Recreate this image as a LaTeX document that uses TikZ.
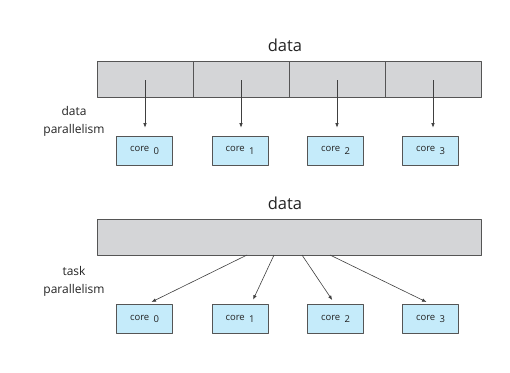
\documentclass[tikz,border=0pt]{standalone}
\usepackage{fontspec}
\setmainfont{Open Sans}
\usetikzlibrary{positioning,arrows.meta}

\definecolor{cellgray}{RGB}{212,213,215}
\definecolor{coreblue}{RGB}{197,235,250}
\definecolor{edgegray}{RGB}{85,85,85}
\definecolor{textgray}{RGB}{35,35,35}

\newcommand{\corelabel}[1]{core\hspace{0.45em}\raisebox{-0.45ex}{#1}}

\begin{document}
\begin{tikzpicture}[x=1pt, y=-1pt, line join=round,
		cell/.style={draw=edgegray, fill=cellgray, line width=0.6pt, minimum width=96pt, minimum height=36pt, inner sep=0pt},
		corebox/.style={draw=edgegray, fill=coreblue, line width=0.6pt, minimum width=56pt, minimum height=29pt, inner sep=0pt, text=textgray, font=\fontsize{9.5}{11}\selectfont},
		title/.style={text=textgray, font=\fontsize{16.5}{20}\selectfont},
		side/.style={text=textgray, align=center, font=\fontsize{12}{18}\selectfont},
		feed/.style={-{Latex[length=4.5pt,width=3.5pt]}, draw=black!75, line width=0.6pt}]
	
	% Ventana de dibujo
	\useasboundingbox (0,0) rectangle (510,372);
	
	% Paralelismo de datos: bloque dividido en cuatro partes
	\node[title] (dtitle) at (285,45) {data};
	\foreach \i in {0,...,3}
	\node[cell] (d\i) at ({145+96*\i},79) {};
	\node[side] (dside) at (74,121) {data\\parallelism};
	
	% Núcleos y flechas verticales
	\foreach \i/\x in {0/144.5,1/240,2/335.5,3/430.5} {
		\node[corebox] (c\i) at (\x,150.5) {\corelabel{\i}};
		\draw[feed, shorten >=8pt] (d\i.center) ++(0,1) -- (d\i.center |- c\i.north);
	}
	
	% Paralelismo de tareas: bloque único
	\node[title] (ttitle) at (285,203) {data};
	\node[cell, minimum width=384pt] (tb) at (289,237) {};
	\node[side] (tside) at (74,281) {task\\parallelism};
	
	% Núcleos y flechas divergentes
	\foreach \i/\x/\s/\e in {0/144.5/247/2.5,1/240/274/11,2/335.5/302/-0.5,3/430.5/330/0.5} {
		\node[corebox] (k\i) at (\x,319) {\corelabel{\i}};
		\coordinate (s\i) at (\s,255);
		\draw[feed, shorten >=5pt] (s\i) -- ([xshift=\e pt]k\i.north);
	}
	
\end{tikzpicture}
\end{document}
